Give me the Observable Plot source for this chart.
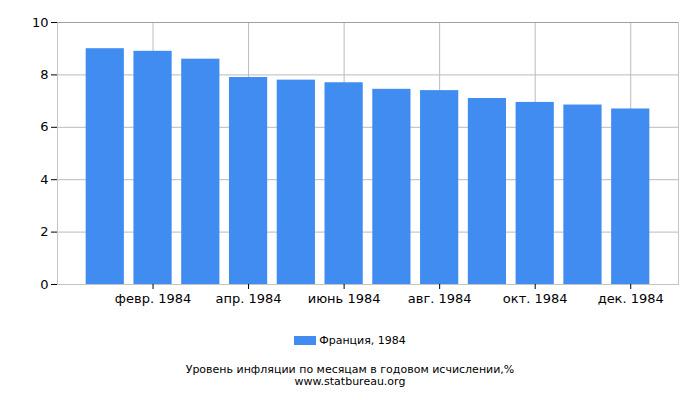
<!DOCTYPE html>
<html>
<head>
<meta charset="utf-8">
<script src="https://cdn.jsdelivr.net/npm/d3@7"></script>
<script src="https://cdn.jsdelivr.net/npm/@observablehq/plot@0.6"></script>
<style>
  body { margin: 0; background: white; font-family: "DejaVu Sans", sans-serif; color: #000; }
  #chart { width: 700px; }
  .legend { height: 20px; margin-top: 10px; display: flex; justify-content: center; align-items: center; font-size: 11px; }
  .sw { width: 22px; height: 9px; background: #418cf0; margin-right: 3px; }
  .caption { margin-top: 14px; text-align: center; font-size: 11px; line-height: 12px; }
</style>
</head>
<body>
<div id="chart"></div>
<script>
const months = ["янв. 1984","февр. 1984","март 1984","апр. 1984","май 1984","июнь 1984","июль 1984","авг. 1984","сент. 1984","окт. 1984","нояб. 1984","дек. 1984"];
const values = [9.0, 8.9, 8.6, 7.9, 7.8, 7.7, 7.45, 7.4, 7.1, 6.95, 6.85, 6.7];
const xTicks = months.filter((d, i) => i % 2 === 1);
const yTicks = [0, 2, 4, 6, 8, 10];
const seriesName = "Франция, 1984";
const captionLines = ["Уровень инфляции по месяцам в годовом исчислении,%", "www.statbureau.org"];

const data = months.map((m, i) => ({month: m, value: values[i]}));

const chart = Plot.plot({
  width: 700, height: 320,
  marginTop: 22, marginLeft: 57, marginRight: 22, marginBottom: 36,
  style: {fontFamily: "DejaVu Sans", fontSize: "13px", color: "#000", background: "white"},
  x: {domain: months, paddingInner: 0.2, paddingOuter: 0.6, round: false, label: null},
  y: {domain: [0, 10], label: null},
  marks: [
    Plot.gridX(xTicks, {stroke: "#bbb", strokeOpacity: 1}),
    Plot.gridY(yTicks.slice(1, -1), {stroke: "#bbb", strokeOpacity: 1}),
    Plot.barY(data, {x: "month", y: "value", fill: "#418cf0"}),
    Plot.frame({stroke: "#c4c4c4"}),
    Plot.ruleY([10], {stroke: "#a0a0a0"}),
    Plot.axisY(yTicks, {tickSize: 6, tickPadding: 3, stroke: "#000"}),
    Plot.axisX(xTicks, {tickSize: 5, tickPadding: 4, stroke: "#000"})
  ]
});
document.getElementById("chart").appendChild(chart);

const leg = document.createElement("div");
leg.className = "legend";
leg.innerHTML = '<div class="sw"></div><span></span>';
leg.querySelector("span").textContent = seriesName;
document.body.appendChild(leg);

const cap = document.createElement("div");
cap.className = "caption";
captionLines.forEach(t => { const d = document.createElement("div"); d.textContent = t; cap.appendChild(d); });
document.body.appendChild(cap);
</script>
</body>
</html>
